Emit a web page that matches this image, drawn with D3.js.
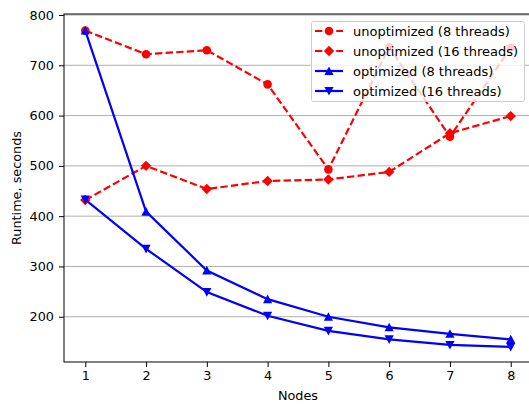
<!doctype html>
<html>
<head>
  <script src="https://d3js.org/d3.v7.min.js"></script>
  <style>
    body { margin: 0; background: #fff; }
  </style>
</head>
<body>
<script>
  // data
  var nodes = [1, 2, 3, 4, 5, 6, 7, 8];
  var unopt8 = [769, 722, 730, 662, 493, 736, 558, 735];
  var unopt16 = [432, 500, 454, 470, 473, 488, 565, 599];
  var opt8 = [769, 409, 292, 235, 200, 179, 166, 155];
  var opt16 = [433, 335, 249, 202, 172, 155, 144, 140];
  var yTicks = [200, 300, 400, 500, 600, 700, 800];
  var seriesNames = ["unoptimized (8 threads)", "unoptimized (16 threads)",
                     "optimized (8 threads)", "optimized (16 threads)"];

  var width = 529, height = 405;
  var font = "DejaVu Sans";
  var fontSize = 12.8;

  // scales set to the matplotlib frame
  var x = d3.scaleLinear().domain([0.65, 8.35]).range([64, 532]);
  var y = d3.scaleLinear().domain([110, 802]).range([362, 14]);

  var svg = d3.select("body").append("svg")
    .attr("width", width)
    .attr("height", height)
    .attr("font-family", font);

  // horizontal grid
  svg.append("g").selectAll("line")
    .data(yTicks)
    .enter().append("line")
      .attr("x1", x.range()[0]).attr("x2", x.range()[1])
      .attr("y1", function(d) { return y(d); })
      .attr("y2", function(d) { return y(d); })
      .attr("stroke", "#b0b0b0")
      .attr("stroke-width", 1);

  // axes
  var xAxis = d3.axisBottom(x).tickValues(nodes).tickFormat(d3.format("d")).tickSize(5).tickPadding(4);
  var yAxis = d3.axisLeft(y).tickValues(yTicks).tickSize(5).tickPadding(5);

  var gx = svg.append("g").attr("transform", "translate(0," + y.range()[0] + ")").call(xAxis);
  var gy = svg.append("g").attr("transform", "translate(" + x.range()[0] + ",0)").call(yAxis);
  [gx, gy].forEach(function(g) {
    g.attr("font-family", font).attr("font-size", fontSize);
    g.select(".domain").remove();
    g.selectAll("text").attr("fill", "#000");
    g.selectAll("line").attr("stroke", "#000");
  });

  // frame
  svg.append("rect")
    .attr("x", x.range()[0]).attr("y", y.range()[1])
    .attr("width", x.range()[1] - x.range()[0])
    .attr("height", y.range()[0] - y.range()[1])
    .attr("fill", "none").attr("stroke", "#000").attr("stroke-width", 1);

  // marker shapes
  function markerPath(kind) {
    if (kind === "circle") return d3.symbol().type(d3.symbolCircle).size(Math.PI * 4.3 * 4.3)();
    if (kind === "diamond") return "M0,-5.2L5.2,0L0,5.2L-5.2,0Z";
    if (kind === "up") return "M0,-4.6L4.6,4L-4.6,4Z";
    return "M0,4.6L4.6,-4L-4.6,-4Z";
  }

  var series = [
    { name: seriesNames[0], values: unopt8, color: "#ff0000", dash: "7.4,3.2", marker: "circle" },
    { name: seriesNames[1], values: unopt16, color: "#ff0000", dash: "7.4,3.2", marker: "diamond" },
    { name: seriesNames[2], values: opt8, color: "#0000ff", dash: null, marker: "up" },
    { name: seriesNames[3], values: opt16, color: "#0000ff", dash: null, marker: "down" }
  ];

  var line = d3.line()
    .x(function(d, i) { return x(nodes[i]); })
    .y(function(d) { return y(d); });

  var plot = svg.append("g");
  series.forEach(function(s) {
    plot.append("path")
      .attr("d", line(s.values))
      .attr("fill", "none")
      .attr("stroke", s.color)
      .attr("stroke-width", 2.2)
      .attr("stroke-dasharray", s.dash);
    plot.selectAll(null)
      .data(s.values)
      .enter().append("path")
        .attr("d", markerPath(s.marker))
        .attr("transform", function(d, i) { return "translate(" + x(nodes[i]) + "," + y(d) + ")"; })
        .attr("fill", s.color);
  });

  // axis labels
  svg.append("text")
    .attr("x", 298).attr("y", 400)
    .attr("text-anchor", "middle").attr("font-size", fontSize)
    .attr("font-family", font)
    .text("Nodes");
  svg.append("text")
    .attr("transform", "translate(21," + (y.range()[0] + y.range()[1]) / 2 + ") rotate(-90)")
    .attr("text-anchor", "middle").attr("font-size", fontSize)
    .attr("font-family", font)
    .text("Runtime, seconds");

  // legend
  var legend = svg.append("g");
  legend.append("rect")
    .attr("x", 311.5).attr("y", 21.5).attr("width", 213).attr("height", 80).attr("rx", 2)
    .attr("fill", "#fff").attr("fill-opacity", 0.8)
    .attr("stroke", "#cccccc");
  series.forEach(function(s, i) {
    var ly = 31 + i * 20;
    legend.append("line")
      .attr("x1", 315).attr("x2", 343).attr("y1", ly).attr("y2", ly)
      .attr("stroke", s.color).attr("stroke-width", 2.2)
      .attr("stroke-dasharray", s.dash);
    legend.append("path")
      .attr("d", markerPath(s.marker))
      .attr("transform", "translate(329," + ly + ")")
      .attr("fill", s.color);
    legend.append("text")
      .attr("x", 353).attr("y", ly + 4.6)
      .attr("font-size", 13)
      .attr("font-family", font)
      .text(s.name);
  });
</script>
</body>
</html>
